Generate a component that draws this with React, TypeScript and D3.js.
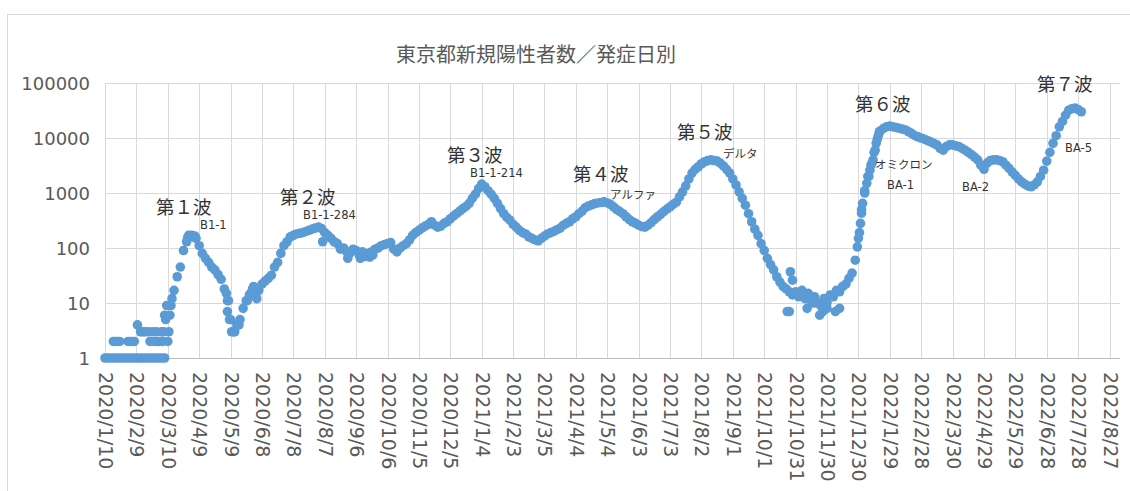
import * as d3 from "d3";

const title = "東京都新規陽性者数／発症日別";

// onset-date counts, one value every 3 days from firstDay
const firstDay = "2020/1/10";
const stepDays = 3;
const cases = [
  1, 1, 1, 1, 1, 1, 1, 1, 1, 1,
  1, 1, 1, 1, 1, 1, 1, 1, 1, 1,
  2, 9, 17, 30, 45, 90, 130, 165, 160, 150,
  110, 80, 65, 55, 45, 40, 33, 27, 18, 11,
  5, 3, 4, 5, 8, 11, 14, 18, 14, 17,
  22, 25, 28, 32, 45, 55, 80, 110, 130, 160,
  170, 180, 185, 190, 200, 210, 220, 230, 240, 225,
  190, 170, 150, 130, 120, 95, 100, 85, 80, 95,
  90, 75, 85, 70, 80, 85, 95, 100, 110, 115,
  120, 125, 95, 85, 100, 110, 120, 140, 170, 190,
  210, 230, 250, 270, 300, 260, 240, 250, 280, 300,
  340, 380, 420, 470, 520, 570, 650, 800, 950, 1200,
  1450, 1300, 1100, 950, 800, 650, 520, 420, 360, 320,
  270, 240, 210, 190, 180, 160, 150, 140, 135, 150,
  165, 180, 190, 200, 215, 230, 260, 280, 300, 340,
  370, 420, 470, 540, 580, 610, 640, 660, 670, 690,
  660, 620, 560, 500, 460, 420, 370, 330, 300, 280,
  260, 245, 240, 260, 290, 330, 370, 410, 460, 510,
  560, 620, 680, 850, 1050, 1350, 1800, 2300, 2700, 3000,
  3400, 3700, 3900, 4000, 3900, 3800, 3500, 3100, 2700, 2300,
  1800, 1400, 1050, 800, 600, 420, 300, 220, 170, 120,
  90, 65, 50, 40, 30, 24, 20, 18, 16, 14,
  16, 13, 17, 12, 15, 11, 13, 10, 9, 12,
  10, 14, 13, 17, 16, 20, 22, 28, 35, 60,
  150, 500, 1100, 2000, 3200, 5500, 9500, 13500, 15000, 16000,
  16500, 16000, 15500, 15000, 14500, 14000, 13000, 12000, 11000, 10500,
  10000, 9500, 9000, 8500, 8000, 7500, 6500, 6000, 7000, 7500,
  7500, 7200, 7000, 6500, 6000, 5500, 5000, 4500, 4000, 3200,
  2700, 3500, 3900, 4000, 4000, 3900, 3700, 3200, 2800, 2400,
  2100, 1800, 1600, 1450, 1350, 1300, 1400, 1600, 2000, 2600,
  3800, 5500, 8000, 11000, 16000, 20000, 26000, 32000, 34000, 35000,
  33000, 30000,
];

// scattered single days (day offset from firstDay, count)
const extraDays = [
  8, 10, 12, 14, 22, 24, 26, 28, 31, 34, 36, 38, 41, 43, 45, 47, 49, 50, 52, 54, 55, 56, 57, 58, 59, 61, 62, 64,
  79, 80, 83, 86,
  116, 117, 118, 119, 121, 124, 128,
  136, 139, 142, 145,
  208, 232, 244, 253, 256,
  652, 654, 655, 657, 671, 677, 683, 686, 690, 698, 702, 705,
  719, 721, 722, 723, 724, 726, 728, 730, 731, 733, 734, 736, 737, 739, 740,
];
const extraCases = [
  2, 2, 2, 2, 2, 2, 2, 2, 4, 3, 3, 3, 3, 2, 3, 2, 3, 2, 2, 3, 2, 3, 6, 5, 9, 3, 6, 12,
  155, 170, 170, 165,
  15, 7, 11, 5, 3, 3, 4,
  11, 15, 20, 12,
  130, 65, 65, 68, 75,
  7, 7, 37, 26, 8, 10, 6, 7, 8, 7, 8, 20,
  105, 190, 280, 430, 650, 1000, 1500, 2000, 2600, 3500, 4000, 6000, 8000, 11000, 13000,
];

const xTickLabels = [
  "2020/1/10", "2020/2/9", "2020/3/10", "2020/4/9", "2020/5/9", "2020/6/8", "2020/7/8", "2020/8/7",
  "2020/9/6", "2020/10/6", "2020/11/5", "2020/12/5", "2021/1/4", "2021/2/3", "2021/3/5", "2021/4/4",
  "2021/5/4", "2021/6/3", "2021/7/3", "2021/8/2", "2021/9/1", "2021/10/1", "2021/10/31", "2021/11/30",
  "2021/12/30", "2022/1/29", "2022/2/28", "2022/3/30", "2022/4/29", "2022/5/29", "2022/6/28", "2022/7/28",
  "2022/8/27",
];
const yTicks = [1, 10, 100, 1000, 10000, 100000];

const waveNames = ["第１波", "第２波", "第３波", "第４波", "第５波", "第６波", "第７波"];
const variantNames = ["B1-1", "B1-1-284", "B1-1-214", "アルファ", "デルタ", "オミクロン", "BA-1", "BA-2", "BA-5"];

// label placement (pixels)
const wavePos = [[156, 214], [280, 204], [447, 162], [573, 181], [677, 139], [855, 111], [1037, 91]];
const variantPos = [[200, 229], [303, 219], [470, 177], [610, 199], [723, 158], [875, 169], [887, 189], [962, 191], [1065, 152]];

const W = 1130, H = 491;
const plot = { left: 105, right: 1120, top: 83, bottom: 358 };
const blue = "#5B9BD5";
const grid = "#d9d9d9";
const axisText = "#595959";

const parseDate = (s: string) => {
  const [y, m, d] = s.split("/").map(Number);
  return new Date(Date.UTC(y, m - 1, d));
};

export default function App() {
  const start = parseDate(firstDay);
  const x = d3.scaleUtc()
    .domain([start, d3.utcDay.offset(start, 970)])
    .range([plot.left, plot.right]);
  const y = d3.scaleLog()
    .domain([1, 100000])
    .range([plot.bottom, plot.top]);

  const points = cases.map((v, i) => ({ date: d3.utcDay.offset(start, i * stepDays), v }))
    .concat(extraDays.map((dd, i) => ({ date: d3.utcDay.offset(start, dd), v: extraCases[i] })));

  return (
    <svg width={W} height={H} style={{ position: "absolute", left: 0, top: 0, background: "#fff" }}>
      <rect x={7.5} y={14.5} width={1130} height={490} fill="#fff" stroke={grid} />
      <text x={536} y={53} textAnchor="middle" dominantBaseline="central"
        fontFamily="'Noto Sans CJK JP', sans-serif" fontSize={20} fill={axisText}>{title}</text>

      {yTicks.map(t => (
        <g key={t}>
          <line x1={plot.left} x2={plot.right} y1={Math.round(y(t)) + 0.5} y2={Math.round(y(t)) + 0.5}
            stroke={t === 1 ? "#bfbfbf" : grid} />
          <text x={90} y={y(t)} textAnchor="end" dominantBaseline="central"
            fontFamily="'DejaVu Sans', sans-serif" fontSize={18} fill={axisText}>{t}</text>
        </g>
      ))}

      {xTickLabels.map(lbl => {
        const px = Math.round(x(parseDate(lbl))) + 0.5;
        return (
          <g key={lbl}>
            <line x1={px} x2={px} y1={plot.top} y2={plot.bottom} stroke={grid} />
            <text transform={`translate(${px},372) rotate(90)`} dy="0.35em"
              fontFamily="'DejaVu Sans', sans-serif" fontSize={19} fill={axisText}>{lbl}</text>
          </g>
        );
      })}

      {points.map((p, i) => (
        <circle key={i} cx={x(p.date)} cy={y(p.v)} r={4.8} fill={blue} />
      ))}

      {waveNames.map((n, i) => (
        <text key={n} x={wavePos[i][0]} y={wavePos[i][1]}
          fontFamily="'Noto Sans CJK JP', sans-serif" fontSize={18.5} fill="#333">{n}</text>
      ))}
      {variantNames.map((n, i) => (
        <text key={n} x={variantPos[i][0]} y={variantPos[i][1]}
          fontFamily="'DejaVu Sans', 'Noto Sans CJK JP', sans-serif" fontSize={11.5} fill="#333">{n}</text>
      ))}
    </svg>
  );
}
